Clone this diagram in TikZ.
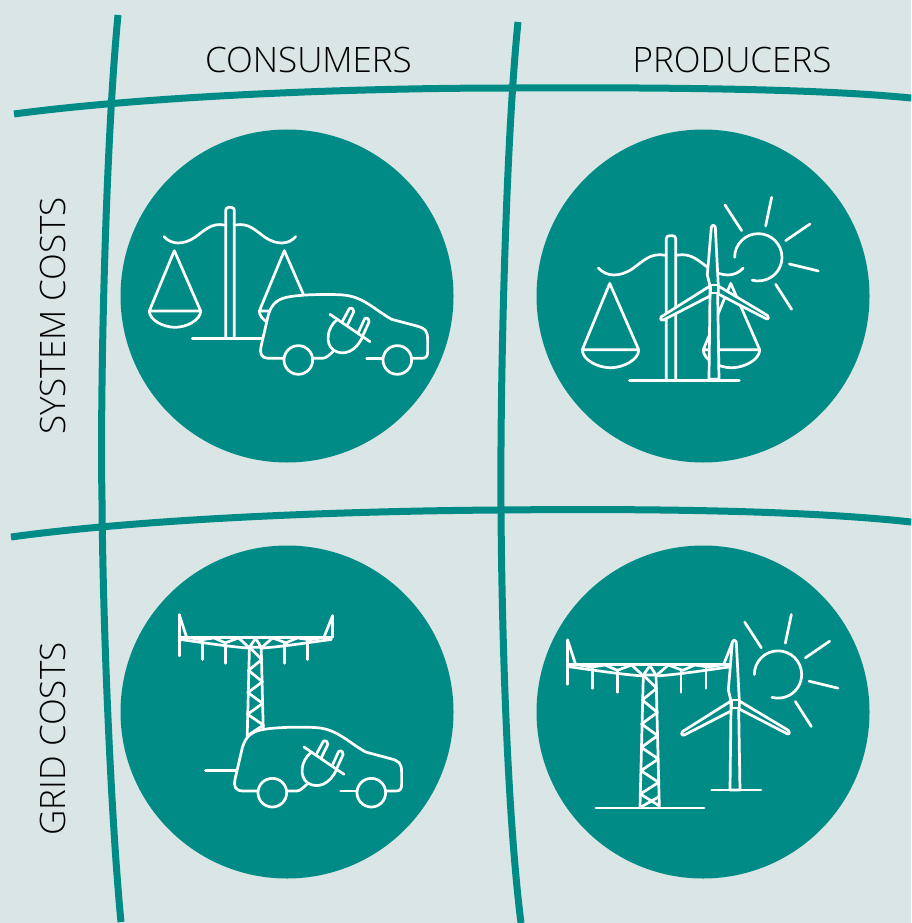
\documentclass[tikz,border=0pt]{standalone}
\usepackage{fontspec}
\setmainfont{Open Sans Light}
\definecolor{tealc}{HTML}{008B87}
\definecolor{bgc}{HTML}{DAE5E5}
\tikzset{
  gridline/.style={draw=tealc,line width=7pt,line cap=butt},
  medal/.style={circle,fill=tealc,minimum size=333pt,inner sep=0pt},
  heading/.style={font=\fontsize{35}{38}\selectfont,text=black,inner sep=0pt},
  icon/.style={draw=white,line width=2.7pt,line cap=round,line join=round},
  iconfill/.style={icon,fill=tealc},
}
% units of all icons: thirds of a pixel, from an origin in pixels
\newcommand{\scaleicon}[3]{%
\begin{scope}[shift={(#1,#2)},x=#3*0.3333pt,y=-#3*0.3333pt]
  \draw[icon,rounded corners=3pt] (287,475)--(287,82)--(313,82)--(313,475);
  \draw[icon] (187,476)--(486,476);
  \draw[icon] (102,170) .. controls (125,195) and (160,195) .. (195,172) .. controls (225,150) and (245,128) .. (283,135);
  \draw[icon] (497,170) .. controls (475,195) and (440,195) .. (405,172) .. controls (375,150) and (355,128) .. (317,135);
  \draw[icon] (133,212)--(58,393)--(212,393)--cycle;
  \draw[icon] (58,393) .. controls (58,420) and (100,442) .. (135,442) .. controls (170,442) and (212,420) .. (212,393);
  \draw[icon] (463,212)--(388,393)--(542,393)--cycle;
  \draw[icon] (388,393) .. controls (388,420) and (430,442) .. (465,442) .. controls (500,442) and (542,420) .. (542,393);
\end{scope}}
\newcommand{\carpath}{(460,535) -- (415,535) .. controls (395,535) and (388,520) .. (393,500) -- (415,405) .. controls (425,370) and (445,355) .. (480,350) .. controls (520,343) and (600,342) .. (640,345) .. controls (700,350) and (735,390) .. (785,418) -- (860,438) .. controls (885,445) and (893,450) .. (893,480) -- (893,515) .. controls (893,530) and (888,535) .. (875,535) -- (710,535)}
\newcommand{\caricon}[2]{%
\begin{scope}[shift={(#1,#2)},x=0.3333pt,y=-0.3333pt]
  \fill[tealc] \carpath -- cycle;
  \draw[icon] (460,535) -- (415,535) .. controls (395,535) and (388,520) .. (393,500) -- (415,405) .. controls (425,370) and (445,355) .. (480,350) .. controls (520,343) and (600,342) .. (640,345) .. controls (700,350) and (735,390) .. (785,418) -- (860,438) .. controls (885,445) and (893,450) .. (893,480) -- (893,515) .. controls (893,530) and (888,535) .. (875,535) -- (848,535);
  \draw[icon] (758,535)--(710,535);
  \draw[icon] (548,535)--(578,535) .. controls (590,535) and (600,522) .. (612,512);
  \draw[iconfill] (505,540) circle[radius=43];
  \draw[iconfill] (802,540) circle[radius=43];
  \draw[icon] (600,403)--(720,485);
  \draw[icon] (622,418) .. controls (590,445) and (585,490) .. (610,510) .. controls (640,530) and (678,515) .. (698,470);
  \draw[icon,rounded corners=2pt] (637,425)--(660,382)--(674,390)--(652,435);
  \draw[icon,rounded corners=2pt] (685,458)--(706,412)--(720,420)--(698,468);
\end{scope}}
\newcommand{\towericon}[3]{%
\begin{scope}[shift={(#1,#2)},x=#3*0.3333pt,y=-#3*0.3333pt]
  \draw[icon] (250,210)--(240,606);
  \draw[icon] (288,210)--(298,606);
  \draw[icon] (108,609)--(432,609);
  \draw[icon] (255,215)--(290,250)--(247,285)--(292,322)--(245,357)--(293,392)--(244,427)--(295,462)--(243,497)--(296,532)--(241,567)--(297,602);
  \draw[icon] (297,575)--(243,606);
  \draw[icon] (270,182)--(250,210)--(288,210)--cycle;
  \draw[icon] (25,178)--(515,178);
  \draw[icon] (25,185) .. controls (100,195) and (180,208) .. (250,213);
  \draw[icon] (515,185) .. controls (440,195) and (360,208) .. (288,213);
  \draw[icon] (45,178)--(95,186)--(135,180)--(172,196)--(215,180)--(245,208);
  \draw[icon] (495,178)--(445,186)--(405,180)--(368,196)--(325,180)--(293,208);
  \draw[icon] (23,105)--(23,238);
  \draw[icon] (23,105)--(46,176);
  \draw[icon] (519,108)--(519,178);
  \draw[icon] (519,108)--(492,176);
  \draw[icon] (97,188)--(97,250);
  \draw[icon] (173,198)--(173,262);
  \draw[icon] (363,198)--(363,262);
  \draw[icon] (438,188)--(438,250);
\end{scope}}
% #3 = y of the foot of the mast in local units, #4 #5 = base line ends
\newcommand{\turbineicon}[5]{%
\begin{scope}[shift={(#1,#2)},x=0.3333pt,y=-0.3333pt]
  \draw[iconfill] (420,308)--(417,#3)--(447,#3)--(443,308);
  \draw[icon] (#4,#3)--(#5,#3);
  \draw[iconfill] (420,288)--(412,255)--(424,112) .. controls (426,104) and (434,104) .. (436,112) -- (445,288)--cycle;
  \draw[iconfill] (420,288)--(274,380) .. controls (268,385) and (272,392) .. (280,390) -- (420,318)--cycle;
  \draw[iconfill] (445,288)--(592,376) .. controls (598,380) and (596,390) .. (588,386) -- (445,312)--cycle;
  \draw[iconfill] (421,285) rectangle (444,309);
\end{scope}}
\newcommand{\sunicon}[2]{%
\begin{scope}[shift={(#1,#2)},x=0.3333pt,y=-0.3333pt]
  \draw[icon] (-71,0) arc[start angle=180,end angle=465,radius=71];
  \draw[icon] (-100,-157)--(-50,-80);
  \draw[icon] (40,-180)--(22,-94);
  \draw[icon] (155,-100)--(82,-50);
  \draw[icon] (93,20)--(180,41);
  \draw[icon] (52,81)--(100,156);
\end{scope}}
\begin{document}
\begin{tikzpicture}[x=1pt,y=-1pt]
  \useasboundingbox (0,0) rectangle (911,923);
  \fill[bgc] (0,0) rectangle (911,923);
  \node[medal] (sc) at (287,296) {};
  \node[medal] (sp) at (703,296) {};
  \node[medal] (gc) at (287,712) {};
  \node[medal] (gp) at (703,712) {};
  \draw[gridline] (118,15) .. controls (105,150) and (100,400) .. (102,500) .. controls (103,640) and (112,830) .. (121,922);
  \draw[gridline] (518,22) .. controls (505,150) and (500,400) .. (501,510) .. controls (502,650) and (508,820) .. (521,923);
  \draw[gridline] (14,114) .. controls (150,96) and (350,88) .. (510,88) .. controls (700,87) and (830,90) .. (911,98);
  \draw[gridline] (11,537) .. controls (150,518) and (350,511) .. (500,510) .. controls (700,508) and (830,513) .. (911,522);
  \node[heading] (t1) at (308.5,60) {CONSUMERS};
  \node[heading] (t2) at (732,60) {PRODUCERS};
  \node[heading,rotate=90] (t3) at (53,316) {SYSTEM COSTS};
  \node[heading,rotate=90] (t4) at (53,739) {GRID COSTS};
  % system / consumers
  \scaleicon{130}{180}{1}
  \caricon{130}{180}
  % system / producers
  \scaleicon{561}{205.7}{1.1}
  \turbineicon{570}{190}{568}{432}{432}
  \sunicon{758.3}{257.3}
  % grid / consumers
  \towericon{172.2}{582.3}{0.927}
  \caricon{104}{612.7}
  % grid / producers
  \towericon{560}{605}{1}
  \turbineicon{591}{605}{555}{362}{510}
  \sunicon{778}{674.5}
\end{tikzpicture}
\end{document}
